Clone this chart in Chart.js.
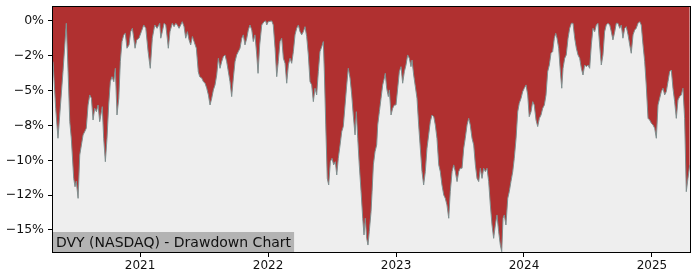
<!DOCTYPE html>
<html>
<head>
<meta charset="utf-8">
<script src="https://cdn.jsdelivr.net/npm/chart.js@4/dist/chart.umd.min.js"></script>
<style>
  body { margin: 0; background: #fff; }
  #wrap { width: 700px; height: 280px; }
</style>
</head>
<body>
<div id="wrap"><canvas id="ddChart" width="700" height="280"></canvas></div>
<script>
// Time axis in decimal years, drawdown in percent
const years = [
  2020.320, 2020.341, 2020.359, 2020.398, 2020.424, 2020.438, 2020.451, 2020.463, 2020.482, 2020.492,
  2020.502, 2020.516, 2020.529, 2020.555, 2020.568, 2020.580, 2020.594, 2020.607, 2020.620, 2020.633,
  2020.646, 2020.659, 2020.672, 2020.685, 2020.705, 2020.716, 2020.729, 2020.742, 2020.755, 2020.768,
  2020.781, 2020.795, 2020.807, 2020.820, 2020.834, 2020.846, 2020.859, 2020.873, 2020.885, 2020.898,
  2020.914, 2020.927, 2020.940, 2020.951, 2020.961, 2020.974, 2020.992, 2021.010, 2021.029, 2021.045,
  2021.063, 2021.080, 2021.096, 2021.115, 2021.133, 2021.154,
  2021.162, 2021.174, 2021.188, 2021.201, 2021.213, 2021.221, 2021.234, 2021.252, 2021.266, 2021.279,
  2021.291, 2021.305, 2021.318, 2021.330, 2021.344, 2021.357, 2021.370, 2021.383, 2021.396, 2021.409,
  2021.422, 2021.440, 2021.455, 2021.466, 2021.482, 2021.495, 2021.508, 2021.521, 2021.534, 2021.547,
  2021.560, 2021.573, 2021.586, 2021.599, 2021.612, 2021.625, 2021.638, 2021.651, 2021.664, 2021.677,
  2021.690, 2021.703, 2021.716, 2021.729, 2021.742, 2021.755, 2021.768, 2021.781, 2021.795, 2021.807,
  2021.820, 2021.834, 2021.846, 2021.859, 2021.873, 2021.885, 2021.898, 2021.912, 2021.922, 2021.935,
  2021.951, 2021.969, 2021.982,
  2021.990, 2022.002, 2022.029, 2022.041, 2022.055, 2022.068, 2022.080, 2022.094, 2022.107, 2022.120,
  2022.133, 2022.146, 2022.159, 2022.172, 2022.185, 2022.198, 2022.211, 2022.224, 2022.237, 2022.250,
  2022.263, 2022.276, 2022.289, 2022.302, 2022.315, 2022.328, 2022.341, 2022.354, 2022.367, 2022.380,
  2022.393, 2022.406, 2022.420, 2022.432, 2022.440, 2022.451, 2022.463, 2022.474, 2022.487, 2022.500,
  2022.513, 2022.526, 2022.537, 2022.549, 2022.563, 2022.576, 2022.588, 2022.602, 2022.615, 2022.627,
  2022.641, 2022.654, 2022.666, 2022.680, 2022.690, 2022.701, 2022.713, 2022.727, 2022.740, 2022.750,
  2022.760, 2022.771, 2022.781, 2022.791, 2022.805,
  2022.813, 2022.823, 2022.836, 2022.849, 2022.857, 2022.870, 2022.883, 2022.896, 2022.909, 2022.916,
  2022.927, 2022.940, 2022.948, 2022.961, 2022.974, 2022.987, 2023.000, 2023.013, 2023.026, 2023.039,
  2023.052, 2023.065, 2023.078, 2023.091, 2023.104, 2023.117, 2023.125, 2023.138, 2023.151, 2023.164,
  2023.177, 2023.190, 2023.203, 2023.216, 2023.229, 2023.242, 2023.255, 2023.268, 2023.281, 2023.295,
  2023.307, 2023.320, 2023.334, 2023.346, 2023.359, 2023.373, 2023.385, 2023.398, 2023.412, 2023.424,
  2023.438, 2023.451, 2023.463, 2023.477, 2023.490, 2023.502, 2023.516, 2023.529, 2023.541, 2023.555,
  2023.568, 2023.580, 2023.594, 2023.607, 2023.620, 2023.633,
  2023.646, 2023.659, 2023.672, 2023.685, 2023.698, 2023.711, 2023.724, 2023.737, 2023.750, 2023.763,
  2023.776, 2023.789, 2023.802, 2023.815, 2023.826, 2023.836, 2023.846, 2023.859, 2023.873, 2023.885,
  2023.898, 2023.912, 2023.924, 2023.938, 2023.951, 2023.963, 2023.977, 2023.990, 2024.002, 2024.016,
  2024.029, 2024.041, 2024.055, 2024.068, 2024.080, 2024.094, 2024.107, 2024.120, 2024.133, 2024.146,
  2024.159, 2024.172, 2024.185, 2024.198, 2024.211, 2024.224, 2024.237, 2024.248, 2024.258, 2024.271,
  2024.284, 2024.295, 2024.305, 2024.318, 2024.330, 2024.344, 2024.357, 2024.370, 2024.383, 2024.396,
  2024.409, 2024.422, 2024.435, 2024.448, 2024.461,
  2024.474, 2024.487, 2024.500, 2024.513, 2024.526, 2024.539, 2024.552, 2024.565, 2024.578, 2024.591,
  2024.604, 2024.617, 2024.630, 2024.643, 2024.656, 2024.670, 2024.682, 2024.695, 2024.709, 2024.721,
  2024.734, 2024.748, 2024.760, 2024.773, 2024.787, 2024.799, 2024.813, 2024.826, 2024.838, 2024.852,
  2024.865, 2024.877, 2024.891, 2024.904, 2024.916, 2024.930, 2024.943, 2024.955, 2024.969, 2024.982,
  2024.995, 2025.008, 2025.021, 2025.034, 2025.047, 2025.060, 2025.073, 2025.086, 2025.099, 2025.112,
  2025.125, 2025.138, 2025.151, 2025.164, 2025.177, 2025.190, 2025.203, 2025.216, 2025.229, 2025.242,
  2025.255, 2025.268, 2025.281, 2025.295
];

const drawdown = [
  -2.92, -6.27, -8.42, -3.64, -0.17, -3.64, -7.23, -8.42, -11.3, -11.9,
  -11.5, -12.73, -9.62, -8.18, -7.94, -7.70, -6.03, -5.31, -5.55, -7.11,
  -6.27, -6.51, -6.03, -7.23, -6.15, -8.42, -10.1, -8.42, -6.03, -4.36,
  -4.0, -4.36, -3.40, -6.75, -5.55, -2.92, -1.48, -1.0, -0.89, -1.96,
  -1.72, -0.77, -0.53, -1.24, -1.96, -1.36, -1.24, -0.77, -0.29, -0.53,
  -2.2, -3.40, -1.24, -0.29, -0.53, -0.17,
  -1.24, -0.77, -0.17, -0.29, -1.24, -1.96, -0.77, -0.17, -0.41, -0.17,
  -0.29, -0.53, -0.29, -0.05, -0.41, -1.24, -0.77, -1.36, -1.72, -1.12,
  -1.48, -1.96, -3.64, -4.0, -4.1, -4.36, -4.47, -4.83, -5.31, -6.03,
  -5.55, -4.95, -4.59, -3.88, -2.68, -3.40, -2.92, -2.56, -2.44, -2.92,
  -3.64, -4.36, -5.43, -4.1, -2.92, -2.44, -2.2, -1.96, -1.24, -1.0,
  -1.72, -1.24, -0.65, -0.29, -0.65, -1.48, -1.0, -2.44, -3.76, -1.72,
  -0.29, -0.05, 0,
  -0.29, -0.05, 0, -0.29, -1.96, -4.0, -2.92, -1.48, -1.24, -2.68,
  -3.04, -4.47, -3.16, -2.68, -3.04, -2.2, -1.0, -0.53, -0.29, -0.77,
  -1.0, -0.77, -0.41, -1.12, -2.44, -4.36, -4.59, -5.79, -4.83, -5.31,
  -3.64, -2.2, -1.84, -1.48, -3.64, -7.46, -11.3, -11.77, -10.1, -9.86,
  -10.33, -10.1, -11.05, -9.86, -8.9, -7.94, -7.58, -6.03, -4.59, -3.40,
  -4.1, -5.31, -6.75, -8.18, -6.51, -8.42, -10.33, -12.25, -14.16, -15.36,
  -14.16, -15.6, -16.08, -15.12, -13.68,
  -12.25, -10.33, -9.38, -8.9, -7.46, -6.51, -5.55, -4.59, -4.1, -3.76,
  -4.83, -5.43, -4.95, -6.75, -6.27, -6.03, -6.03, -4.83, -3.64, -3.28,
  -4.47, -3.64, -3.16, -2.44, -2.68, -3.28, -2.80, -3.88, -4.71, -5.55,
  -7.46, -9.14, -10.81, -11.77, -10.81, -9.14, -8.18, -7.23, -6.75, -6.87,
  -7.46, -8.42, -10.33, -10.81, -11.77, -12.49, -12.73, -13.2, -14.16, -12.25,
  -10.81, -10.33, -10.81, -11.53, -10.81, -10.57, -10.57, -9.14, -8.42, -7.46,
  -6.99, -7.46, -8.42, -8.9, -10.33, -11.3,
  -11.53, -10.57, -11.3, -10.57, -10.81, -10.57, -11.53, -13.2, -14.64, -15.6,
  -14.64, -13.92, -15.12, -16.08, -16.56, -14.16, -13.92, -14.64, -12.73, -12.25,
  -11.53, -10.81, -9.86, -8.42, -6.51, -5.91, -5.55, -5.07, -4.83, -4.59,
  -5.31, -6.87, -6.51, -5.79, -6.03, -7.11, -7.58, -6.99, -6.75, -6.27,
  -6.03, -5.31, -3.64, -3.16, -2.32, -2.2, -1.24, -0.89, -1.24, -1.96,
  -3.64, -4.83, -3.40, -2.68, -2.44, -1.24, -0.53, -0.17, -0.17, -1.24,
  -1.96, -2.44, -2.68, -3.40, -3.88,
  -3.16, -3.28, -3.16, -3.40, -1.72, -0.53, -0.77, -0.29, -0.17, -1.72,
  -3.16, -2.44, -0.77, -0.29, -0.17, -0.29, -0.77, -1.36, -0.77, -0.17,
  -0.17, -0.53, -0.29, -1.24, -0.53, -0.41, -1.0, -1.72, -2.32, -1.0,
  -0.65, -0.53, -0.17, -0.05, -0.29, -1.72, -2.92, -4.59, -6.99, -7.11,
  -7.34, -7.46, -7.70, -8.42, -6.03, -5.55, -5.07, -4.83, -5.31, -5.07,
  -4.36, -3.64, -3.52, -4.83, -5.79, -6.99, -5.67, -5.43, -5.31, -4.83,
  -6.99, -12.25, -11.3, -10.33
];

const yTickValues = [0, -2.5, -5, -7.5, -10, -12.5, -15];
const yTickLabels = ['0%', '\u22122%', '\u22125%', '\u22128%', '\u221210%', '\u221212%', '\u221215%'];
const xTickValues = [2021, 2022, 2023, 2024, 2025];
const title = 'DVY (NASDAQ) - Drawdown Chart';

const points = years.map((yr, i) => ({ x: yr, y: drawdown[i] }));

// plot background, caption box and frame
const framePlugin = {
    id: 'frame',
    beforeDatasetsDraw(chart) {
        const { ctx, chartArea: a } = chart;
        ctx.save();
        ctx.fillStyle = '#eeeeee';
        ctx.fillRect(a.left, a.top, a.right - a.left, a.bottom - a.top);
        ctx.restore();
    },
    afterDatasetsDraw(chart) {
        const { ctx, chartArea: a } = chart;
        ctx.save();
        ctx.font = '14px "DejaVu Sans"';
        const w = ctx.measureText(title).width;
        ctx.fillStyle = '#b3b3b3';
        ctx.fillRect(a.left, a.bottom - 20, w + 6, 20);
        ctx.fillStyle = '#111';
        ctx.textBaseline = 'alphabetic';
        ctx.fillText(title, a.left + 3, a.bottom - 5);
        ctx.strokeStyle = '#000';
        ctx.lineWidth = 1;
        ctx.strokeRect(a.left - 0.5, a.top - 0.5, a.right - a.left + 1, a.bottom - a.top + 1);
        ctx.restore();
    }
};

new Chart(document.getElementById('ddChart').getContext('2d'), {
    type: 'line',
    data: {
        datasets: [{
            data: points,
            borderColor: '#7f8f8f',
            borderWidth: 1,
            backgroundColor: '#b03030',
            fill: 'end',
            pointRadius: 0,
            tension: 0
        }]
    },
    options: {
        responsive: false,
        animation: false,
        layout: { padding: { left: 0, right: 10, top: 7, bottom: 0 } },
        plugins: { legend: { display: false }, tooltip: { enabled: false } },
        scales: {
            x: {
                type: 'linear',
                min: 2020.32,
                max: 2025.297,
                afterFit: s => { s.height = 28; s.paddingLeft = 0; s.paddingRight = 0; },
                afterBuildTicks: s => { s.ticks = xTickValues.map(v => ({ value: v })); },
                grid: { drawOnChartArea: false, drawTicks: true, tickLength: 5, tickColor: '#000' },
                border: { display: false },
                ticks: {
                    color: '#111',
                    padding: 2,
                    maxRotation: 0,
                    font: { family: 'DejaVu Sans', size: 12 },
                    callback: v => String(v)
                }
            },
            y: {
                min: -16.58,
                max: 1.0,
                afterFit: s => { s.width = 53; s.paddingTop = 0; s.paddingBottom = 0; },
                afterBuildTicks: s => { s.ticks = yTickValues.map(v => ({ value: v })); },
                grid: { drawOnChartArea: false, drawTicks: true, tickLength: 5, tickColor: '#000' },
                border: { display: false },
                ticks: {
                    color: '#111',
                    padding: 4,
                    font: { family: 'DejaVu Sans', size: 12.5 },
                    callback: v => yTickLabels[yTickValues.indexOf(v)]
                }
            }
        }
    },
    plugins: [framePlugin]
});
</script>
</body>
</html>
